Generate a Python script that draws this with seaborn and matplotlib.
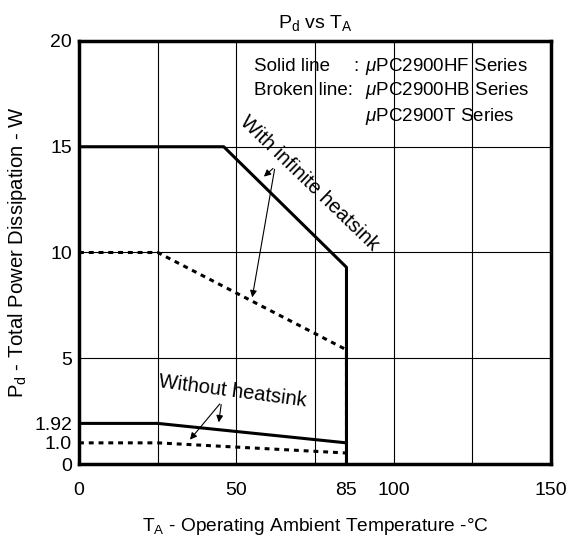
import matplotlib
matplotlib.use("Agg")
import matplotlib.pyplot as plt
import pandas as pd
import seaborn as sns

sns.set_theme(style="white")
plt.rcParams["font.family"] = ["Liberation Sans", "DejaVu Sans"]
plt.rcParams["mathtext.fontset"] = "custom"
plt.rcParams["mathtext.rm"] = "Liberation Sans"
plt.rcParams["mathtext.it"] = "Liberation Sans:italic"
plt.rcParams["text.color"] = "black"
plt.rcParams["axes.labelcolor"] = "black"

# derating curves (TA in degC, Pd in W)
hf_inf_t = [0, 46, 85, 85]
hf_inf_p = [15, 15, 9.3, 0]
hb_inf_t = [0, 25, 85, 85]
hb_inf_p = [10, 10, 5.4, 0]
hf_free_t = [0, 25, 85]
hf_free_p = [1.92, 1.92, 1.0]
hb_free_t = [0, 25, 85]
hb_free_p = [1.0, 1.0, 0.52]

x_ticks = [0, 50, 85, 100, 150]
y_ticks = [0, 1.0, 1.92, 5, 10, 15, 20]
y_tick_labels = ["0", "1.0", "1.92", "5", "10", "15", "20"]
x_grid = [25, 50, 75, 100, 125]
y_grid = [5, 10, 15]

fig = plt.figure(figsize=(5.7, 5.42), dpi=100)
ax = fig.add_axes([0.1386, 0.1439, 0.8281, 0.7805])

for gx in x_grid:
    ax.axvline(gx, color="black", lw=0.8, zorder=1)
for gy in y_grid:
    ax.axhline(gy, color="black", lw=0.8, zorder=1)

curves = [
    (hf_inf_t, hf_inf_p, "solid"),
    (hb_inf_t, hb_inf_p, "dashed"),
    (hf_free_t, hf_free_p, "solid"),
    (hb_free_t, hb_free_p, "dashed"),
]
for t, p, style in curves:
    df = pd.DataFrame({"TA": t, "Pd": p})
    line_ax = sns.lineplot(data=df, x="TA", y="Pd", ax=ax, sort=False,
                           estimator=None, color="black", lw=2.2, zorder=3)
    if style == "dashed":
        line_ax.lines[-1].set_dashes((1.6, 1.6))

ax.set_xlim(0, 150)
ax.set_ylim(0, 20)
ax.set_xticks(x_ticks)
ax.set_yticks(y_ticks)
ax.set_yticklabels(y_tick_labels)
ax.tick_params(axis="both", length=0, labelsize=14, colors="black")
ax.tick_params(axis="x", pad=13)
ax.tick_params(axis="y", pad=5)
for sp in ax.spines.values():
    sp.set_color("black")
    sp.set_linewidth(2.5)

ax.set_xlabel(r"T$_\mathregular{A}$ - Operating Ambient Temperature -°C",
              fontsize=13.8, labelpad=12)
ax.set_ylabel(r"P$_\mathregular{d}$ - Total Power Dissipation - W",
              fontsize=14.6, labelpad=4)
ax.set_title(r"P$_\mathregular{d}$ vs T$_\mathregular{A}$", fontsize=14, pad=9)

# series note
fs = 13.5
ax.text(55.6, 18.77, "Solid line", fontsize=fs, va="center", ha="left")
ax.text(87.0, 18.77, ":", fontsize=fs, va="center", ha="left")
ax.text(55.6, 17.64, "Broken line:", fontsize=fs, va="center", ha="left")
ax.text(90.9, 18.77, r"$\mathit{\mu}$PC2900HF Series", fontsize=fs, va="center", ha="left")
ax.text(90.9, 17.64, r"$\mathit{\mu}$PC2900HB Series", fontsize=fs, va="center", ha="left")
ax.text(90.9, 16.45, r"$\mathit{\mu}$PC2900T Series", fontsize=fs, va="center", ha="left")

# annotations
ax.text(73.3, 13.25, "With infinite heatsink", fontsize=14.5, rotation=-44,
        ha="center", va="center", rotation_mode="anchor")
arrow = dict(arrowstyle="-|>", color="black", lw=0.8, mutation_scale=10)
ax.annotate("", xy=(58.1, 13.5), xytext=(62.3, 14.06), arrowprops=arrow)
ax.annotate("", xy=(54.9, 7.75), xytext=(62.3, 14.06), arrowprops=arrow)

ax.text(48.8, 3.45, "Without heatsink", fontsize=14.5, rotation=-7.5,
        ha="center", va="center", rotation_mode="anchor")
ax.annotate("", xy=(44.3, 1.84), xytext=(45.3, 2.94), arrowprops=arrow)
ax.annotate("", xy=(34.7, 1.05), xytext=(45.3, 2.94), arrowprops=arrow)

fig.savefig("out.png", dpi=100)
